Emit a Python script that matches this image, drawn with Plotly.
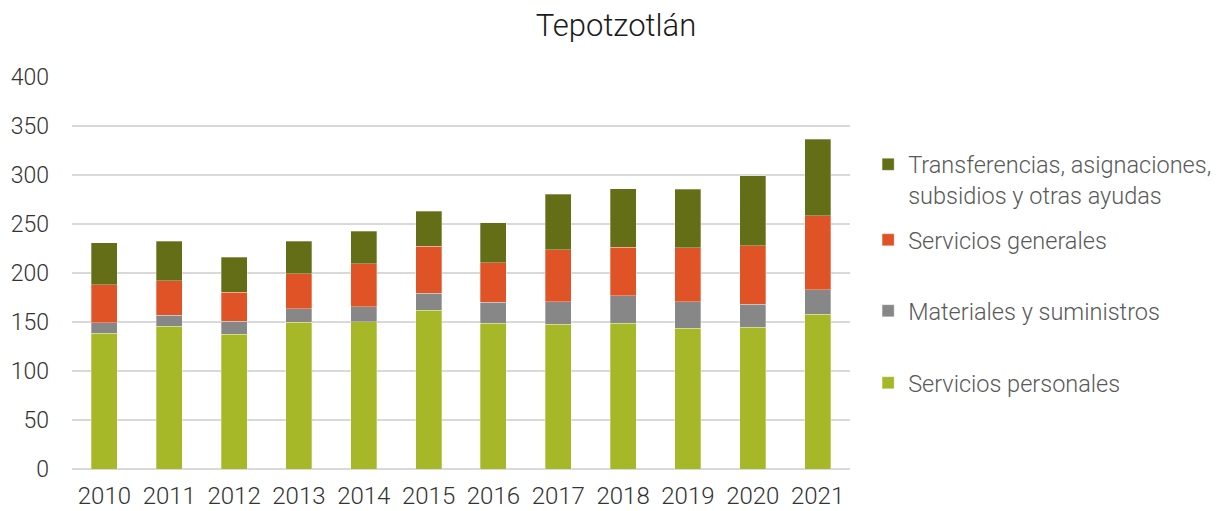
import plotly.graph_objects as go

years = ["2010", "2011", "2012", "2013", "2014", "2015", "2016", "2017", "2018", "2019", "2020", "2021"]
servicios_personales = [138.2, 145.3, 137.5, 149.4, 150.0, 161.9, 148.4, 147.4, 148.7, 143.3, 144.6, 157.8]
materiales_suministros = [10.8, 11.2, 12.9, 13.8, 15.6, 17.0, 21.6, 23.3, 28.1, 27.4, 23.1, 25.1]
servicios_generales = [39.0, 35.6, 29.5, 35.6, 43.7, 48.3, 40.4, 52.9, 49.1, 54.9, 59.9, 75.2]
transferencias = [42.8, 40.2, 35.8, 33.2, 32.9, 35.3, 40.6, 56.5, 59.7, 59.3, 71.5, 77.9]

y_ticks = [0, 50, 100, 150, 200, 250, 300, 350, 400]

FONT = "Roboto"
# page body has an 8px default margin; size the figure to fill the window after it
OFF = 8
W, H = 1223 - OFF, 511 - OFF
ML, MT = 72 - OFF, 76 - OFF
MR = 1223 - 850
MB = 511 - 469
plot_h = 469 - 76

def py(pix):
    return (469 - pix) / plot_h

series = [
    ("Servicios personales", servicios_personales, "#A6B727", "legend5", 383, "middle"),
    ("Materiales y suministros", materiales_suministros, "#878787", "legend4", 311, "middle"),
    ("Servicios generales", servicios_generales, "#E05326", "legend3", 240, "middle"),
    ("Transferencias, asignaciones,<br>subsidios y otras ayudas", transferencias, "#646E17", "legend2", 180, "top"),
]

fig = go.Figure()
for name, vals, col, leg, _, _ in series:
    fig.add_trace(go.Bar(
        x=years, y=vals, name=name, legend=leg, showlegend=True,
        marker=dict(color=col, line=dict(width=0.6, color="rgba(255,255,255,0.5)")),
    ))

layout_legends = {}
for name, vals, col, leg, pix, va in series:
    layout_legends[leg] = dict(
        x=1.0233, xanchor="left", y=py(pix), yanchor="middle",
        font=dict(family=FONT, size=23.5, color="#595959", weight=300),
        bgcolor="rgba(0,0,0,0)", borderwidth=0, itemwidth=30, valign=va,
    )

fig.update_layout(
    width=W, height=H,
    margin=dict(l=ML, r=MR, t=MT, b=MB, autoexpand=False),
    barmode="stack", bargap=0.6,
    plot_bgcolor="white", paper_bgcolor="white",
    title=dict(text="Tepotzotlán", x=0.5004, xanchor="center", y=0.966, yanchor="middle",
               font=dict(family=FONT, size=31, color="#1a1a1a", weight=300)),
    xaxis=dict(showgrid=False, showline=False, ticks="", ticklabelstandoff=10,
               tickfont=dict(family=FONT, size=24, color="#333333", weight=300)),
    yaxis=dict(range=[0, 400.5], tickvals=y_ticks, showgrid=True, gridcolor="#d9d9d9", gridwidth=1.5,
               zeroline=True, zerolinecolor="#d9d9d9", zerolinewidth=1.5, showline=False, ticks="",
               ticklabelstandoff=22,
               tickfont=dict(family=FONT, size=23, color="#333333", weight=300)),
    **layout_legends,
)
fig.write_html("out.html")
